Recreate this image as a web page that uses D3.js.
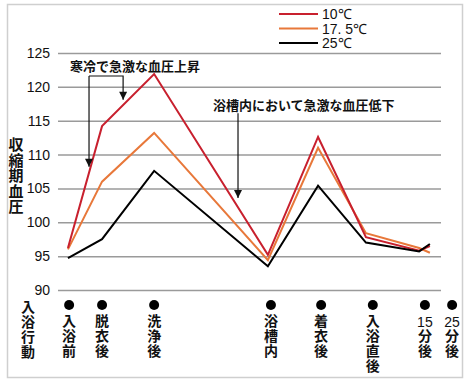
<!DOCTYPE html>
<html>
<head>
<meta charset="utf-8">
<script src="https://cdn.jsdelivr.net/npm/d3@7"></script>
<style>
	body { margin: 0; background: #fff; }
	text { font-family: "Liberation Sans", Arial, sans-serif; }
	.jp { font-family: "Noto Sans CJK JP", sans-serif; }
	.vert { writing-mode: vertical-rl; }
</style>
</head>
<body>
<svg width="468" height="384"></svg>
<script>
// data
var steps = ["入浴前", "脱衣後", "洗浄後", "浴槽内", "着衣後", "入浴直後", "15分後", "25分後"];
var stepPos = [2.6, 11.5, 25.1, 54.8, 67.9, 80.4, 94.3, 97.1]; // where each reading sits on the timeline (0-100)
var dotPos = [2.9, 11.5, 25.1, 55.6, 68.7, 82.2, 95.8, 102.9];
var stepMinutes = [null, null, null, null, null, null, "15", "25"];
var stepWords = ["入浴前", "脱衣後", "洗浄後", "浴槽内", "着衣後", "入浴直後", "分後", "分後"];
var seriesNames = ["10℃", "17. 5℃", "25℃"];
var seriesColors = ["#c8202e", "#e8783a", "#000000"];
var bp10 = [96.2, 114.2, 121.9, 95.2, 112.6, 97.8, 95.8, 96.5];
var bp175 = [96.0, 106.0, 113.2, 94.4, 111.0, 98.4, 96.2, 95.5];
var bp25 = [94.7, 97.5, 107.6, 93.5, 105.4, 97.0, 95.7, 96.8];
var yTicks = [90, 95, 100, 105, 110, 115, 120, 125];

var narrow = "'Liberation Sans Narrow', 'Liberation Sans', sans-serif";
var svg = d3.select("svg");

// frame
svg.append("rect").attr("x", 7.5).attr("y", 4.5).attr("width", 455).attr("height", 373)
	.attr("fill", "none").attr("stroke", "#cfcfcf").attr("stroke-width", 1.5);

var x = d3.scaleLinear().domain([0, 100]).range([58, 441]);
var y = d3.scaleLinear().domain([90, 125]).range([290, 53]);

// grid + y ticks
var yAxis = svg.append("g").attr("transform", "translate(58,0)")
	.call(d3.axisLeft(y).tickValues(yTicks).tickSize(-383).tickPadding(8));
yAxis.select(".domain").remove();
yAxis.selectAll(".tick line").attr("stroke", "#9a9a9a").attr("stroke-width", 1.5);
yAxis.selectAll(".tick text").attr("fill", "#111").attr("font-family", narrow).style("font-size", "14px");

// vertical text helper (one text element, vertical writing mode)
function vtext(g, str, cx, top, size, spacing) {
	return g.append("text").attr("class", "jp vert").attr("x", cx).attr("y", top)
		.attr("font-size", size).attr("font-weight", "bold").attr("fill", "#111")
		.style("letter-spacing", spacing + "px").text(str);
}

// y label
vtext(svg, "収縮期血圧", 16, 137, 15, 0.5);

// series lines
var line = d3.line().x(function(d, i) { return x(stepPos[i]); }).y(function(d) { return y(d); });
var order = [1, 0, 2];
var all = [bp10, bp175, bp25];
order.forEach(function(k) {
	svg.append("path").datum(all[k]).attr("d", line).attr("fill", "none")
		.attr("stroke", seriesColors[k]).attr("stroke-width", 2);
});

// annotations
var defs = svg.append("defs");
defs.append("marker").attr("id", "ah").attr("viewBox", "0 0 10 10").attr("refX", 10).attr("refY", 5)
	.attr("markerWidth", 9).attr("markerHeight", 8).attr("markerUnits", "userSpaceOnUse").attr("orient", "auto")
	.append("path").attr("d", "M0,0L10,5L0,10Z").attr("fill", "#111");

var ann = svg.append("g").attr("stroke", "#111").attr("stroke-width", 1.2).attr("fill", "none");
ann.append("path").attr("d", "M" + x(8.1) + "," + y(121.6) + "V" + y(108.2)).attr("marker-end", "url(#ah)");
ann.append("path").attr("d", "M" + x(8.1) + "," + y(121.6) + "H" + x(17.0) + "V" + y(118.1)).attr("marker-end", "url(#ah)");
ann.append("path").attr("d", "M" + x(47.0) + "," + y(116.1) + "V" + y(103.6)).attr("marker-end", "url(#ah)");

svg.append("text").attr("class", "jp").attr("x", 70).attr("y", 71).attr("font-size", 13).attr("font-weight", "bold")
	.attr("fill", "#111").text("寒冷で急激な血圧上昇");
svg.append("text").attr("class", "jp").attr("x", 213).attr("y", 110).attr("font-size", 13).attr("font-weight", "bold")
	.attr("fill", "#111").text("浴槽内において急激な血圧低下");

// legend
var leg = svg.append("g");
seriesNames.forEach(function(n, i) {
	var ly = 14 + i * 14.5;
	leg.append("line").attr("x1", 279).attr("x2", 318).attr("y1", ly).attr("y2", ly)
		.attr("stroke", seriesColors[i]).attr("stroke-width", 2);
	leg.append("text").attr("x", 322).attr("y", ly + 5).attr("font-size", 14).attr("fill", "#111")
		.attr("font-family", narrow).text(n);
});

// x: action timeline
vtext(svg, "入浴行動", 28, 300, 14, 1);
var dots = svg.append("g");
steps.forEach(function(s, i) {
	var cx = x(dotPos[i]);
	dots.append("circle").attr("cx", cx).attr("cy", 305).attr("r", 5).attr("fill", "#000");
	var top = 314;
	if (stepMinutes[i]) {
		dots.append("text").attr("x", cx).attr("y", 327).attr("text-anchor", "middle")
			.attr("font-family", narrow).attr("font-size", 14).attr("fill", "#111").text(stepMinutes[i]);
		top = 329;
	}
	vtext(dots, stepWords[i], cx, top, 14, 1);
});
</script>
</body>
</html>
